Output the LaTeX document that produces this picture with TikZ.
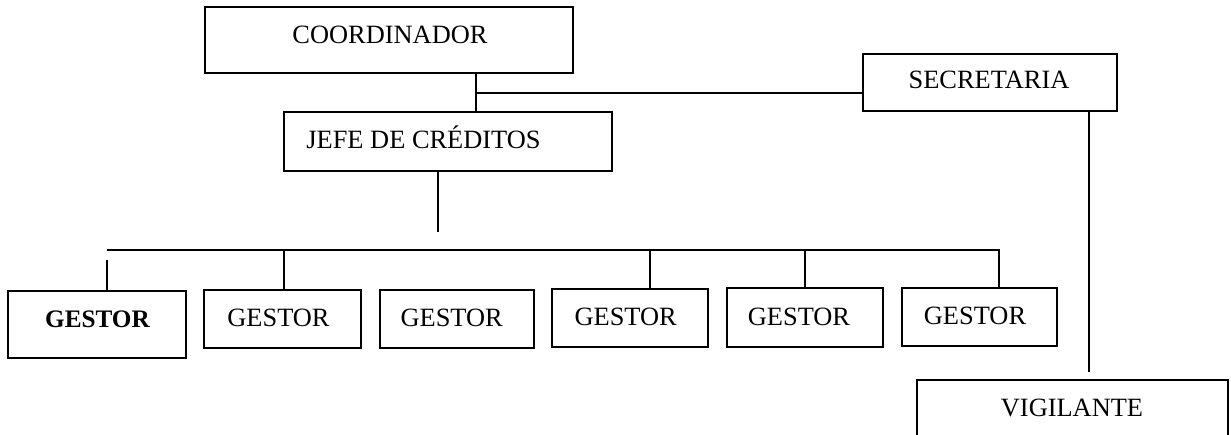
\documentclass[tikz,border=0pt]{standalone}
\usepackage{fontspec}
\setmainfont{Liberation Serif}
\begin{document}
\begin{tikzpicture}[x=0.5pt,y=-0.5pt,
  box/.style={draw, line width=1pt, rectangle, inner sep=0pt},
  lbl/.style={anchor=base, inner sep=0pt, font=\fontsize{13.2}{15}\selectfont},
  link/.style={line width=1pt}]
\useasboundingbox (0,0) rectangle (1231,434);
\clip (0,0) rectangle (1231,434);

% boxes
\node[box, minimum width=184pt,   minimum height=33pt]   (coord) at (389,40)    {};
\node[box, minimum width=127pt,   minimum height=28.5pt] (secr)  at (990,82.5)  {};
\node[box, minimum width=164pt,   minimum height=29.5pt] (jefe)  at (448,141.5) {};
\node[box, minimum width=89pt,    minimum height=33.5pt] (g1)    at (97,324.5)  {};
\node[box, minimum width=78.5pt,  minimum height=29pt]   (g2)    at (282.5,319) {};
\node[box, minimum width=77pt,    minimum height=29pt]   (g3)    at (457,319)   {};
\node[box, minimum width=78pt,    minimum height=29pt]   (g4)    at (630,318)   {};
\node[box, minimum width=78pt,    minimum height=29.5pt] (g5)    at (805,317.5) {};
\node[box, minimum width=77.5pt,  minimum height=29pt]   (g6)    at (979.5,317) {};
\node[box, minimum width=155.5pt, minimum height=30pt]   (vig)   at (1072.5,410) {};

% labels
\node[lbl] (coord-t) at (390,43)    {COORDINADOR};
\node[lbl] (secr-t)  at (989,88)    {SECRETARIA};
\node[lbl] (jefe-t)  at (423.5,148) {JEFE DE CRÉDITOS};
\node[lbl, font=\fontsize{12.6}{15}\selectfont\bfseries] (g1-t) at (97.5,327) {GESTOR};
\node[lbl] (g2-t)    at (278.5,326) {GESTOR};
\node[lbl] (g3-t)    at (451.7,326) {GESTOR};
\node[lbl] (g4-t)    at (625.7,325) {GESTOR};
\node[lbl] (g5-t)    at (799,325)   {GESTOR};
\node[lbl] (g6-t)    at (975,324)   {GESTOR};
\node[lbl] (vig-t)   at (1072,416)  {VIGILANTE};

% connectors
\coordinate (cj) at (476,93);
\draw[link] (coord.south -| cj) -- (jefe.north -| cj);
\draw[link] (cj) -- (cj -| secr.west);

\coordinate (jd) at (438,232);
\draw[link] (jefe.south -| jd) -- (jd);

\coordinate (busL) at (107,250);
\coordinate (busR) at (999,250);
\draw[link] (busL) -- (busR) -- (busR |- g6.north);

\coordinate (d1) at (107,260);
\coordinate (d2) at (284,250);
\coordinate (d4) at (650,250);
\coordinate (d5) at (805,250);
\draw[link] (d1) -- (d1 |- g1.north);
\draw[link] (d2) -- (d2 |- g2.north);
\draw[link] (d4) -- (d4 |- g4.north);
\draw[link] (d5) -- (d5 |- g5.north);

\coordinate (sd) at (1089,372);
\draw[link] (secr.south -| sd) -- (sd);
\end{tikzpicture}
\end{document}
